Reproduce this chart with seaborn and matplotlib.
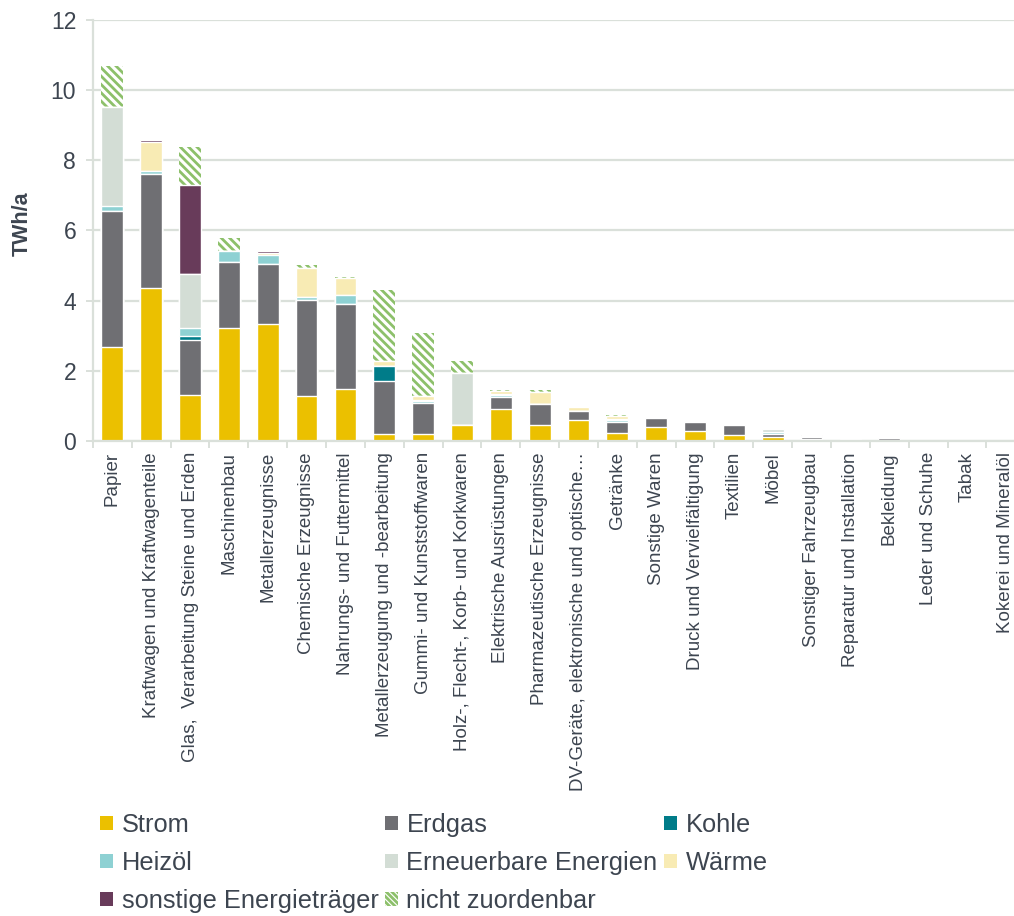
import numpy as np
import pandas as pd
import seaborn as sns
import matplotlib.pyplot as plt
from matplotlib.patches import Patch
from matplotlib.ticker import FixedLocator

# Branchen (x-Achse)
branchen = ["Papier", "Kraftwagen und Kraftwagenteile", "Glas,  Verarbeitung Steine und Erden",
            "Maschinenbau", "Metallerzeugnisse", "Chemische Erzeugnisse", "Nahrungs- und Futtermittel",
            "Metallerzeugung und -bearbeitung", "Gummi- und Kunststoffwaren",
            "Holz-, Flecht-, Korb- und Korkwaren", "Elektrische Ausrüstungen",
            "Pharmazeutische Erzeugnisse", "DV-Geräte, elektronische und optische…", "Getränke",
            "Sonstige Waren", "Druck und Vervielfältigung", "Textilien", "Möbel",
            "Sonstiger Fahrzeugbau", "Reparatur und Installation", "Bekleidung", "Leder und Schuhe",
            "Tabak", "Kokerei und Mineralöl"]

# Energieträger in TWh/a
strom = [2.69, 4.35, 1.31, 3.21, 3.33, 1.28, 1.49, 0.20, 0.19, 0.46, 0.92, 0.45,
         0.59, 0.22, 0.39, 0.29, 0.18, 0.12, 0.06, 0.04, 0.03, 0.01, 0.005, 0.0]
erdgas = [3.86, 3.25, 1.57, 1.90, 1.71, 2.74, 2.42, 1.51, 0.88, 0.0, 0.34, 0.60,
          0.26, 0.32, 0.26, 0.26, 0.27, 0.09, 0.06, 0.0, 0.05, 0.0, 0.0, 0.0]
kohle = [0, 0, 0.12, 0, 0, 0, 0, 0.43, 0, 0, 0, 0,
         0, 0, 0, 0, 0, 0, 0, 0, 0, 0, 0, 0]
heizoel = [0.14, 0.09, 0.23, 0.31, 0.25, 0.08, 0.24, 0, 0.06, 0, 0.06, 0,
           0, 0.06, 0, 0, 0, 0.04, 0, 0, 0, 0, 0, 0]
erneuerbare = [2.82, 0, 1.53, 0, 0, 0, 0, 0, 0.05, 1.49, 0.03, 0,
               0, 0.03, 0, 0, 0, 0.08, 0, 0, 0, 0.01, 0, 0]
waerme = [0, 0.82, 0, 0, 0.08, 0.82, 0.50, 0.13, 0.10, 0, 0.06, 0.35,
          0.13, 0.08, 0, 0, 0, 0, 0.03, 0.03, 0, 0, 0, 0]
sonstige = [0, 0.07, 2.53, 0, 0.05, 0, 0, 0, 0, 0, 0, 0,
            0, 0, 0, 0, 0, 0, 0.02, 0, 0, 0, 0, 0]
nicht_zuordenbar = [1.18, 0, 1.09, 0.36, 0, 0.10, 0.03, 2.02, 1.79, 0.33, 0.03, 0.04,
                    0, 0.02, 0, 0, 0, 0, 0, 0, 0, 0, 0, 0]

traeger = ["Strom", "Erdgas", "Kohle", "Heizöl", "Erneuerbare Energien", "Wärme",
           "sonstige Energieträger", "nicht zuordenbar"]
farben = ["#EBC000", "#6F6F73", "#007C89", "#8ED1D3", "#D3DDD5", "#F8EBB4", "#683B5A", "white"]
hatch_green = "#8DC06B"
text_col = "#3D4550"
grid_col = "#DAE0DA"


def build_cumulative():
    df = pd.DataFrame(dict(zip(traeger, [strom, erdgas, kohle, heizoel, erneuerbare,
                                         waerme, sonstige, nicht_zuordenbar])))
    cum = df.cumsum(axis=1)
    cum.insert(0, "Branche", branchen)
    return cum


def main():
    sns.set_theme(style="white")
    plt.rcParams["font.family"] = ["Liberation Sans", "DejaVu Sans"]
    plt.rcParams["hatch.linewidth"] = 2.0

    cum = build_cumulative()

    fig = plt.figure(figsize=(10.14, 9.16), dpi=100)
    ax = fig.add_axes([0.0916, 0.5186, 0.9195, 0.4596])

    # stacked bars drawn top-down as overlapping cumulative totals
    for name, farbe in reversed(list(zip(traeger, farben))):
        if name == "nicht zuordenbar":
            sns.barplot(data=cum, x="Branche", y=name, order=branchen, color="white",
                        saturation=1, width=0.56, edgecolor=hatch_green, linewidth=0,
                        hatch="\\\\\\\\", errorbar=None, ax=ax)
        else:
            sns.barplot(data=cum, x="Branche", y=name, order=branchen, color=farbe,
                        saturation=1, width=0.56, edgecolor="white", linewidth=1.0,
                        errorbar=None, ax=ax)

    ax.set_xlim(-0.5, len(branchen) - 0.5)
    ax.set_ylim(0, 12)
    ax.set_yticks(np.arange(0, 13, 2))
    ax.set_xlabel("")
    ax.set_ylabel("")
    ax.set_axisbelow(True)
    ax.yaxis.grid(True, color=grid_col, linewidth=1.6)
    ax.xaxis.grid(False)

    for side in ["top", "right"]:
        ax.spines[side].set_visible(False)
    for side in ["left", "bottom"]:
        ax.spines[side].set_color(grid_col)
        ax.spines[side].set_linewidth(1.6)

    ax.tick_params(axis="y", left=True, length=5, width=1.4, color=grid_col,
                   labelsize=16.5, labelcolor=text_col, pad=7)
    ax.tick_params(axis="x", which="major", bottom=False, length=0,
                   labelsize=13.5, labelcolor=text_col, pad=8)
    ax.set_xticks(range(len(branchen)))
    ax.set_xticklabels(branchen, rotation=90)
    ax.xaxis.set_minor_locator(FixedLocator(np.arange(-0.5, len(branchen), 1.0)))
    ax.tick_params(axis="x", which="minor", bottom=True, length=5, width=1.4,
                   color=grid_col)

    fig.text(22.5 / 1014, 1 - 224 / 916, "TWh/a", rotation=90, ha="center", va="center",
             fontsize=15.5, fontweight="bold", color=text_col)

    handles = []
    for name, farbe in zip(traeger, farben):
        if name == "nicht zuordenbar":
            p = Patch(facecolor="white", edgecolor=hatch_green,
                      hatch="\\\\\\\\\\\\", linewidth=0, label=name)
            if hasattr(p, "set_hatch_linewidth"):
                p.set_hatch_linewidth(1.2)
            handles.append(p)
        else:
            handles.append(Patch(facecolor=farbe, edgecolor="none", label=name))
    # legend is filled column-wise, reorder to get row-wise layout
    order = [0, 3, 6, 1, 4, 7, 2, 5]
    handles = [handles[i] for i in order]
    leg = fig.legend(handles=handles, labels=[h.get_label() for h in handles],
                     loc="upper left", bbox_to_anchor=(100 / 1014, 1 - 813 / 916), ncol=3,
                     frameon=False, fontsize=18.3, handlelength=0.5, handleheight=0.5,
                     handletextpad=0.35, columnspacing=0.25, labelspacing=0.55,
                     borderpad=0, borderaxespad=0)
    for t in leg.get_texts():
        t.set_color(text_col)

    fig.savefig("out.png", dpi=100)


if __name__ == "__main__":
    main()
